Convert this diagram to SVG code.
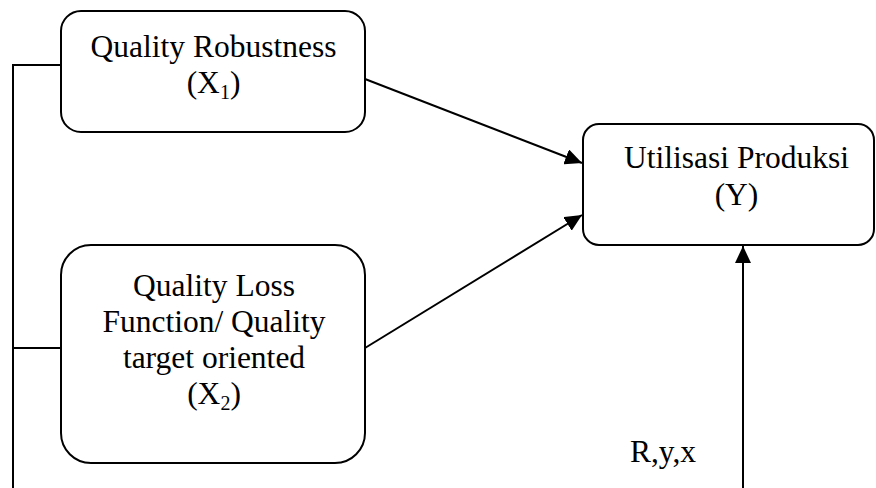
<svg xmlns="http://www.w3.org/2000/svg" width="876" height="488" viewBox="0 0 876 488">
<style>
.box{fill:#fff;stroke:#000;stroke-width:2}
.t{font-family:"Liberation Serif","Times New Roman",serif;font-size:31.5px;fill:#000;text-anchor:middle}
.sub{font-size:20px}
.ln{fill:none;stroke:#000;stroke-width:2}
</style>
<defs>
<marker id="ah" markerUnits="userSpaceOnUse" markerWidth="18" markerHeight="16" refX="17" refY="8" orient="auto">
<path d="M0,0 L17,8 L0,16 z" fill="#000"/>
</marker>
</defs>
<g id="connectors">
<polyline class="ln" points="61,65 13,65 13,488"/>
<line class="ln" x1="13" y1="348" x2="61" y2="348"/>
<line class="ln" x1="365" y1="79" x2="582" y2="163" marker-end="url(#ah)"/>
<line class="ln" x1="365" y1="348" x2="582" y2="215" marker-end="url(#ah)"/>
<line class="ln" x1="743" y1="488" x2="743" y2="246" marker-end="url(#ah)"/>
</g>
<g id="x1">
<rect class="box" x="61" y="11" width="304" height="121" rx="20" ry="20"/>
<text class="t" x="213.5" y="57">Quality Robustness</text>
<text class="t" x="213.5" y="93">(X<tspan class="sub" dy="6">1</tspan><tspan dy="-6">)</tspan></text>
</g>
<g id="x2">
<rect class="box" x="61" y="245" width="304" height="218" rx="30" ry="30"/>
<text class="t" x="214" y="296">Quality Loss</text>
<text class="t" x="214" y="332">Function/ Quality</text>
<text class="t" x="214" y="368">target oriented</text>
<text class="t" x="214" y="404">(X<tspan class="sub" dy="6">2</tspan><tspan dy="-6">)</tspan></text>
</g>
<g id="y">
<rect class="box" x="583" y="124" width="291" height="121" rx="16" ry="16"/>
<text class="t" x="736.5" y="168">Utilisasi Produksi</text>
<text class="t" x="736.5" y="205">(Y)</text>
</g>
<g id="label">
<text class="t" x="663" y="462">R,y,x</text>
</g>
</svg>
